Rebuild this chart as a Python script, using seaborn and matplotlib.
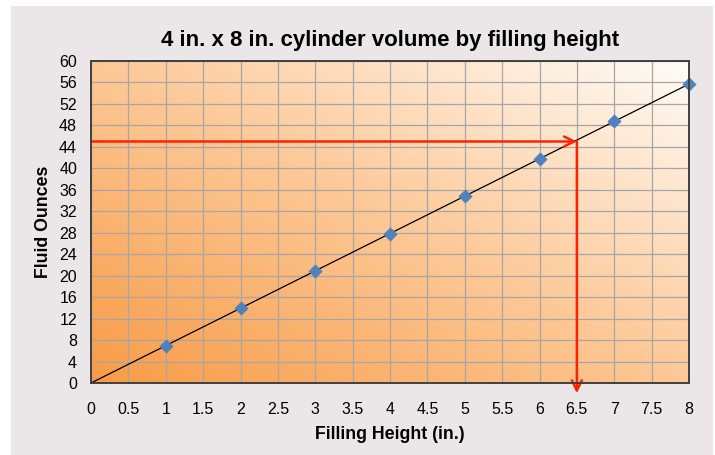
import matplotlib
matplotlib.use("Agg")
import matplotlib.pyplot as plt
import matplotlib.patches as mpatches
import seaborn as sns
import pandas as pd
import numpy as np

# data
heights = [1, 2, 3, 4, 5, 6, 7, 8]
ounces = [6.96, 13.93, 20.89, 27.85, 34.82, 41.78, 48.74, 55.71]
trend_x = [0, 8]
trend_y = [0, 55.71]
target_height = 6.5
target_ounces = 45
x_ticks = [0, 0.5, 1, 1.5, 2, 2.5, 3, 3.5, 4, 4.5, 5, 5.5, 6, 6.5, 7, 7.5, 8]
x_labels = ["0", "0.5", "1", "1.5", "2", "2.5", "3", "3.5", "4", "4.5",
            "5", "5.5", "6", "6.5", "7", "7.5", "8"]
y_ticks = list(range(0, 61, 4))

df = pd.DataFrame({"height": heights, "ounces": ounces})
trend = pd.DataFrame({"height": trend_x, "ounces": trend_y})

sns.set_style("white")
plt.rcParams['font.family'] = ['Liberation Sans', 'DejaVu Sans']
plt.rcParams['text.color'] = 'black'
plt.rcParams['axes.labelcolor'] = 'black'

fig = plt.figure(figsize=(7.15, 4.55), dpi=100, facecolor="white")
fig.patches.append(mpatches.Rectangle((11 / 715, 0), 702 / 715, 449 / 455,
                                      transform=fig.transFigure,
                                      facecolor="#ebe7e8", edgecolor="none", zorder=-10))
ax = fig.add_axes([91 / 715, 72 / 455, 598 / 715, 322 / 455])

# orange -> white diagonal gradient
n = 300
u, v = np.meshgrid(np.linspace(0, 1, n), np.linspace(0, 1, n))
t = (u + v) / 2
stops_t = [0, 0.5, 1]
c0 = np.array([248, 155, 70]) / 255
c1 = np.array([253, 200, 150]) / 255
c2 = np.array([255, 252, 248]) / 255
img = np.zeros((n, n, 3))
for k in range(3):
    img[..., k] = np.interp(t, stops_t, [c0[k], c1[k], c2[k]])
ax.imshow(img, extent=[0, 8, 0, 60], origin="lower", aspect="auto", zorder=0)

ax.set_xlim(0, 8)
ax.set_ylim(0, 60)
ax.set_xticks(x_ticks)
ax.set_xticklabels(x_labels)
ax.set_yticks(y_ticks)
ax.grid(True, color="#a6a6a6", linewidth=0.9, zorder=1)
ax.set_axisbelow(False)

sns.lineplot(data=trend, x="height", y="ounces", color="black", linewidth=0.9, ax=ax, zorder=3)
sns.scatterplot(data=df, x="height", y="ounces", marker="D", s=45, color="#4f81bd",
                edgecolor="#4f81bd", linewidth=0.5, ax=ax, zorder=4, clip_on=False)

red = "#ff2200"
ax.annotate("", xy=(target_height, target_ounces), xytext=(0, target_ounces),
            arrowprops=dict(arrowstyle="->", color=red, lw=1.8, shrinkA=0, shrinkB=0,
                            mutation_scale=18), zorder=5)
ax.annotate("", xy=(target_height, -1.9), xytext=(target_height, target_ounces),
            arrowprops=dict(arrowstyle="->", color=red, lw=1.8, shrinkA=0, shrinkB=0,
                            mutation_scale=18), annotation_clip=False, zorder=5)

for s in ax.spines.values():
    s.set_color("#404040")
    s.set_linewidth(1.4)
    s.set_zorder(6)

ax.tick_params(axis="both", direction="out", length=5, width=1, color="#a6a6a6",
               labelsize=11.5, labelcolor="black")
ax.tick_params(axis="x", pad=9)
ax.tick_params(axis="y", pad=5)

ax.set_title("4 in. x 8 in. cylinder volume by filling height", fontsize=16,
             fontweight="bold", pad=11, color="black")
ax.set_xlabel("Filling Height (in.)", fontsize=12.8, fontweight="bold", labelpad=6)
ax.set_ylabel("Fluid Ounces", fontsize=12.8, fontweight="bold", labelpad=5)

fig.savefig("out.png", dpi=100, facecolor="white")
